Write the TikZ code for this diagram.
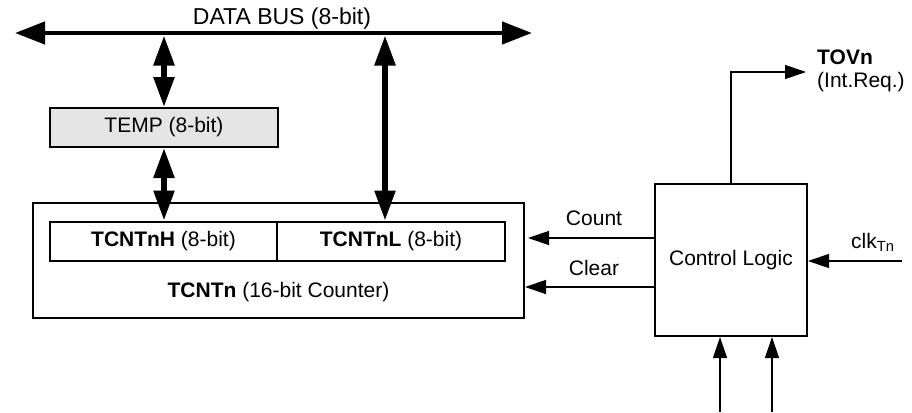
\documentclass[tikz,border=0pt]{standalone}
\usepackage{fontspec}
\setmainfont{Liberation Sans}
\usetikzlibrary{arrows.meta}
\begin{document}
\begin{tikzpicture}[x=1pt,y=-1pt,
  every node/.style={font=\fontsize{21}{25}\selectfont, inner sep=0pt},
  box/.style={draw, line width=2pt, rectangle},
  thin arrow/.style={line width=1.3pt, -{Triangle[length=21pt,width=14pt]}},
  fat arrow/.style={line width=5.5pt, {Triangle[length=30pt,width=20pt]}-{Triangle[length=30pt,width=20pt]}},
  bus/.style={line width=4.5pt, {Triangle[length=30pt,width=22pt]}-{Triangle[length=30pt,width=22pt]}}]
\useasboundingbox (0,0) rectangle (912,412);

% data bus
\coordinate (busL) at (15,33);
\coordinate (busR) at (532,33);
\draw[bus] (busL) -- (busR);
\node[anchor=base, font=\fontsize{23}{27}\selectfont] (buslbl) at (282,25) {DATA BUS (8-bit)};

% boxes
\node[box, fill=black!10, minimum width=228pt, minimum height=39pt] (temp) at (164,127.5) {TEMP (8-bit)};
\node[box, minimum width=491pt, minimum height=115pt] (cnt) at (278.5,260) {};
\node (cntlbl) at (278.5,292) {\textbf{TCNTn} (16-bit Counter)};
\node[box, minimum width=227pt, minimum height=39pt] (hi) at (163.5,241) {\textbf{TCNTnH} (8-bit)};
\node[box, minimum width=228pt, minimum height=39pt] (lo) at (391,241) {\textbf{TCNTnL} (8-bit)};
\node[box, minimum width=152pt, minimum height=152pt] (ctl) at (731,260) {Control Logic};

% bus taps
\coordinate (tap1) at (164,35.5);
\coordinate (tap2) at (385,35.5);
\draw[fat arrow] (tap1) -- (temp.north);
\draw[fat arrow] (temp.south) -- (temp.south |- hi.north);
\draw[fat arrow] (tap2) -- (tap2 |- lo.north);

% count / clear
\draw[thin arrow] ([yshift=22pt]ctl.west) -- ([yshift=22pt,xshift=3pt]ctl.west -| cnt.east);
\draw[thin arrow] ([yshift=-27pt]ctl.west) -- ([yshift=-27pt]ctl.west -| cnt.east);
\node (countlbl) at (594,218) {Count};
\node (clearlbl) at (594,268) {Clear};

% clock
\coordinate (clkin) at (902,261);
\draw[thin arrow] (clkin) -- (clkin -| ctl.east);
\node[anchor=base west] (clklbl) at (851,248) {clk\textsubscript{Tn}};

% bottom inputs
\coordinate (in1) at (720,412);
\coordinate (in2) at (772,412);
\draw[thin arrow] (in1) -- (in1 |- ctl.south);
\draw[thin arrow] (in2) -- (in2 |- ctl.south);

% TOVn
\coordinate (tovend) at (806,72);
\draw[thin arrow] (ctl.north) |- (tovend);
\node[anchor=west] (tov) at (817,57) {\textbf{TOVn}};
\node[anchor=west] (intreq) at (817,82) {(Int.Req.)};
\end{tikzpicture}
\end{document}
